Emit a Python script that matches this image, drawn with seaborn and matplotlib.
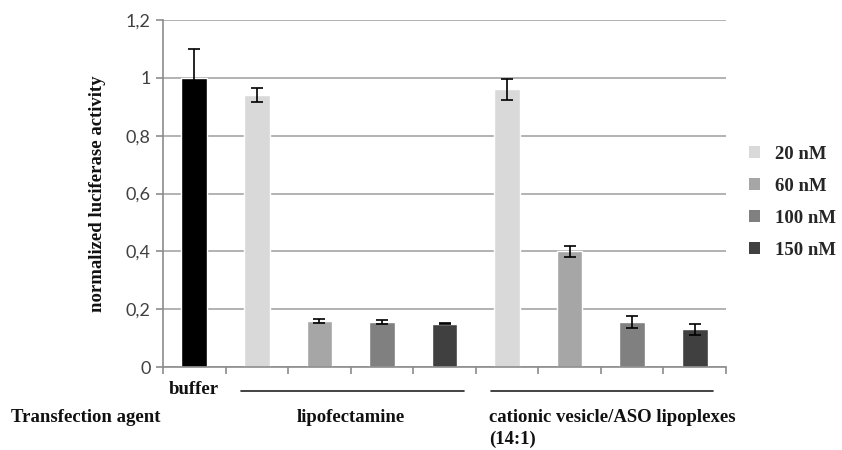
import matplotlib
matplotlib.use("Agg")
import matplotlib.pyplot as plt
from matplotlib.patches import Patch
import seaborn as sns
import pandas as pd
import numpy as np

# ---- data ----
bar_ids = ["buffer", "lipo 20", "lipo 60", "lipo 100", "lipo 150",
           "ves 20", "ves 60", "ves 100", "ves 150"]
groups = ["buffer", "20 nM", "60 nM", "100 nM", "150 nM",
          "20 nM", "60 nM", "100 nM", "150 nM"]
values = [1.0, 0.94, 0.16, 0.155, 0.15, 0.96, 0.40, 0.155, 0.13]
errors = [0.10, 0.024, 0.007, 0.007, 0.003, 0.035, 0.02, 0.02, 0.02]
legend_labels = ["20 nM", "60 nM", "100 nM", "150 nM"]
group_colors = {"buffer": "#000000", "20 nM": "#d9d9d9", "60 nM": "#a6a6a6",
                "100 nM": "#808080", "150 nM": "#404040"}
yticks = [0, 0.2, 0.4, 0.6, 0.8, 1.0, 1.2]
ytick_labels = ["0", "0,2", "0,4", "0,6", "0,8", "1", "1,2"]

df = pd.DataFrame({"bar": bar_ids, "group": groups, "value": values})

sns.set_style("white")
plt.rcParams["font.family"] = ["DejaVu Sans"]

fig = plt.figure(figsize=(8.42, 4.5), dpi=100)
ax = fig.add_axes([163 / 842, 1 - 367 / 450, (726 - 163) / 842, (367 - 20) / 450])

sns.barplot(data=df, x="bar", y="value", hue="group", palette=group_colors,
            dodge=False, width=0.41, legend=False, ax=ax, saturation=1,
            errorbar=None)

ax.errorbar(np.arange(len(values)), values, yerr=errors, fmt="none",
            ecolor="black", elinewidth=1.2, capsize=4.5, capthick=1.2, zorder=5)

ax.set_ylim(0, 1.2)
ax.set_xlim(-0.5, len(values) - 0.5)
ax.set_yticks(yticks)
ax.set_yticklabels(ytick_labels, fontfamily="Lato", fontsize=13, color="#404040")
ax.yaxis.grid(True, color="#a6a6a6", linewidth=1.2)
ax.set_axisbelow(True)

ax.set_xticks(np.arange(-0.5, len(values), 1.0))
ax.set_xticklabels([])
ax.set_xlabel("")
ax.set_ylabel("normalized luciferase activity", fontfamily="Liberation Serif",
              fontweight="bold", fontsize=13.5, color="#111111", labelpad=14)
ax.tick_params(axis="x", bottom=True, direction="out", length=5, color="#8c8c8c", width=1.2)
ax.tick_params(axis="y", left=True, direction="out", length=5, color="#8c8c8c", width=1.2, pad=4)

for s in ["top", "right"]:
    ax.spines[s].set_visible(False)
for s in ["left", "bottom"]:
    ax.spines[s].set_color("#8c8c8c")
    ax.spines[s].set_linewidth(1.2)

# legend
handles = [Patch(facecolor=group_colors[l], edgecolor="none") for l in legend_labels]
leg = fig.legend(handles, legend_labels, loc="upper left",
                 bbox_to_anchor=(745 / 842, 1 - 142 / 450), frameon=False,
                 prop={"family": "Liberation Serif", "weight": "bold", "size": 13.5},
                 handlelength=0.6, handleheight=0.6, labelspacing=0.8,
                 handletextpad=0.8, borderpad=0.2, borderaxespad=0.0)

# category annotations below the axis
tf = dict(fontfamily="Liberation Serif", fontweight="bold", fontsize=13.5, color="#111111")
fig.text(169 / 842, 1 - 390 / 450, "buffer", va="center", ha="left", **tf)
fig.add_artist(plt.Line2D([241 / 842, 464 / 842], [1 - 391 / 450] * 2,
                          color="#222222", linewidth=1.2))
fig.add_artist(plt.Line2D([491 / 842, 713 / 842], [1 - 391 / 450] * 2,
                          color="#222222", linewidth=1.2))
fig.text(11 / 842, 1 - 418 / 450, "Transfection agent", va="center", ha="left", **tf)
fig.text(297 / 842, 1 - 418 / 450, "lipofectamine", va="center", ha="left", **tf)
fig.text(489 / 842, 1 - 418 / 450, "cationic vesicle/ASO lipoplexes", va="center", ha="left", **tf)
fig.text(489 / 842, 1 - 439 / 450, "(14:1)", va="center", ha="left", **tf)

fig.savefig("out.png", dpi=100, facecolor="white")
